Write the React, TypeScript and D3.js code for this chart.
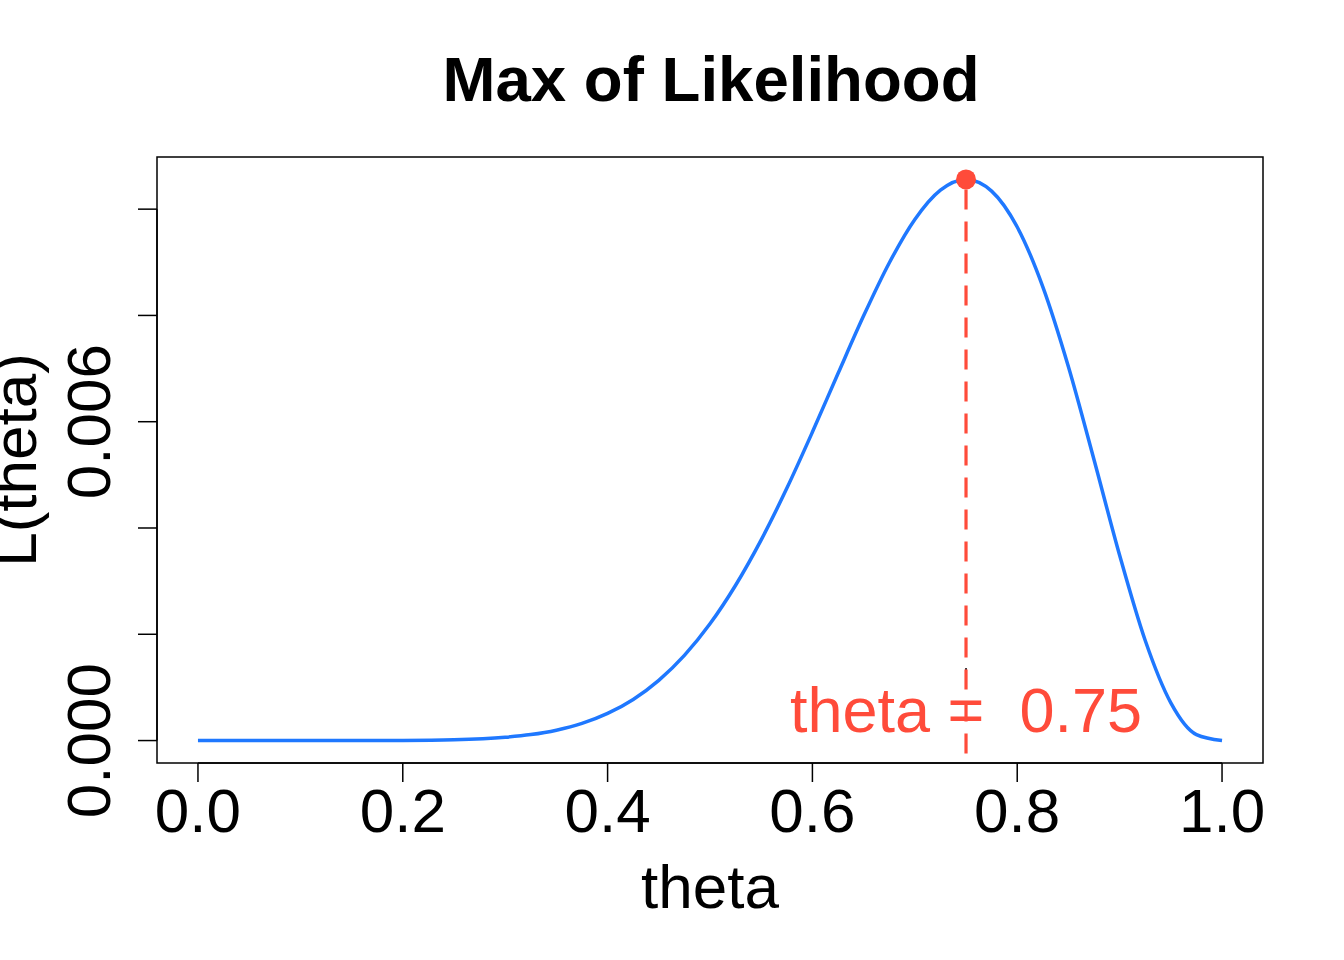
import * as d3 from 'd3';

// theta grid and likelihood values
const thetas = [
  0, 0.05, 0.1, 0.15, 0.2, 0.25, 0.3, 0.325, 0.35, 0.375, 0.4, 0.425, 0.45, 0.475,
  0.5, 0.525, 0.55, 0.575, 0.6, 0.625, 0.65, 0.675, 0.7, 0.725, 0.75, 0.775, 0.8,
  0.825, 0.85, 0.875, 0.9, 0.925, 0.95, 0.975, 1,
];
const likelihood = [
  0, 0, 0.0000001, 0.0000002, 0.0000024, 0.0000145, 0.0000608, 0.000112, 0.000195,
  0.000322, 0.00051, 0.000774, 0.001133, 0.001603, 0.002197, 0.002923, 0.003777,
  0.004747, 0.005805, 0.006906, 0.007992, 0.008987, 0.009806, 0.010358, 0.010559,
  0.01034, 0.009664, 0.008539, 0.007035, 0.005285, 0.003487, 0.001882, 0.000709,
  0.000112, 0,
];
const xTicks = [0, 0.2, 0.4, 0.6, 0.8, 1.0];
const yTicks = [0, 0.002, 0.004, 0.006, 0.008, 0.01];
const yLabelled = [0, 0.006];
const thetaHat = 0.75;
const maxL = 0.010559;

const BLUE = '#1f78ff';
const RED = '#ff4b3a';
const FONT = 'Liberation Sans, Arial, Helvetica, sans-serif';

export default function App() {
  const W = 1344;
  const H = 960;
  const box = { left: 157, right: 1263, top: 157, bottom: 763 };

  // R-style 4% axis padding
  const xPad = 0.04;
  const x = d3.scaleLinear()
    .domain([0 - xPad, 1 + xPad])
    .range([box.left, box.right]);
  const yPad = (d3.max(likelihood)! - 0) * 0.04;
  const y = d3.scaleLinear()
    .domain([0 - yPad, d3.max(likelihood)! + yPad])
    .range([box.bottom, box.top]);

  const pts: [number, number][] = thetas.map((t, i) => [t, likelihood[i]]);
  const line = d3.line<[number, number]>()
    .x(d => x(d[0]))
    .y(d => y(d[1]))
    .curve(d3.curveMonotoneX);

  return (
    <svg
      width={W}
      height={H}
      style={{ position: 'absolute', left: 0, top: 0, background: '#fff' }}
      fontFamily={FONT}
    >
      <rect x={0} y={0} width={W} height={H} fill="#fff" />

      {/* title */}
      <text x={(box.left + box.right) / 2 + 1} y={101} textAnchor="middle" fontSize={63.6} fontWeight="bold">
        Max of Likelihood
      </text>

      {/* curve */}
      <path d={line(pts)!} fill="none" stroke={BLUE} strokeWidth={3.5} />

      {/* small black mark under the label */}
      <line x1={x(thetaHat)} x2={x(thetaHat)} y1={668} y2={682} stroke="#000" strokeWidth={1.5} />

      {/* max marker */}
      <line
        x1={x(thetaHat)}
        x2={x(thetaHat)}
        y1={y(maxL)}
        y2={box.bottom}
        stroke={RED}
        strokeWidth={3.2}
        strokeDasharray="20 12"
        strokeDashoffset={-10}
      />
      <circle cx={x(thetaHat)} cy={y(maxL)} r={10} fill={RED} />
      <text x={x(thetaHat)} y={732} textAnchor="middle" fontSize={63} fill={RED} style={{ whiteSpace: 'pre' }}>
        {'theta =  0.75'}
      </text>

      {/* box */}
      <rect
        x={box.left}
        y={box.top}
        width={box.right - box.left}
        height={box.bottom - box.top}
        fill="none"
        stroke="#000"
        strokeWidth={1.5}
      />

      {/* x axis */}
      <line x1={x(xTicks[0])} x2={x(xTicks[xTicks.length - 1])} y1={box.bottom} y2={box.bottom} stroke="#000" strokeWidth={1.5} />
      {xTicks.map(t => (
        <g key={t}>
          <line x1={x(t)} x2={x(t)} y1={box.bottom} y2={box.bottom + 19} stroke="#000" strokeWidth={1.5} />
          <text x={x(t)} y={832} textAnchor="middle" fontSize={62}>
            {d3.format('.1f')(t)}
          </text>
        </g>
      ))}
      <text x={(box.left + box.right) / 2} y={908} textAnchor="middle" fontSize={62}>
        theta
      </text>

      {/* y axis */}
      <line x1={box.left} x2={box.left} y1={y(yTicks[0])} y2={y(yTicks[yTicks.length - 1])} stroke="#000" strokeWidth={1.5} />
      {yTicks.map(t => (
        <line key={t} x1={box.left - 19} x2={box.left} y1={y(t)} y2={y(t)} stroke="#000" strokeWidth={1.5} />
      ))}
      {yLabelled.map(t => (
        <text
          key={t}
          transform={`translate(110,${y(t)}) rotate(-90)`}
          textAnchor="middle"
          fontSize={62}
        >
          {d3.format('.3f')(t)}
        </text>
      ))}
      <text
        transform={`translate(36,${(box.top + box.bottom) / 2}) rotate(-90)`}
        textAnchor="middle"
        fontSize={62}
      >
        L(theta)
      </text>
    </svg>
  );
}
